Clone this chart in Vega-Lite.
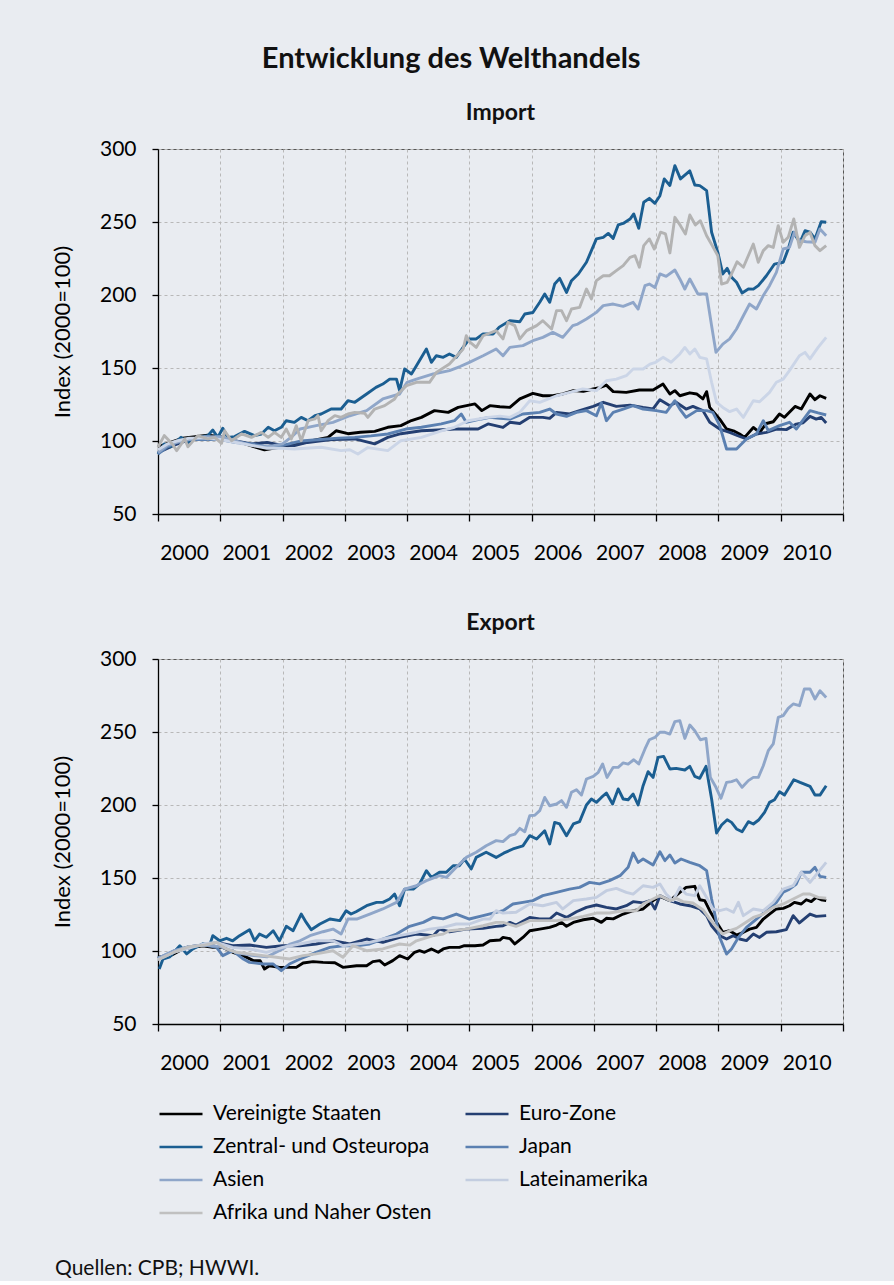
{
  "$schema": "https://vega.github.io/schema/vega-lite/v6.json",
  "background": "#e9ecf1",
  "padding": {"left": 50, "top": 44, "right": 38, "bottom": 2},
  "title": {"text": "Entwicklung des Welthandels", "fontSize": 29, "fontWeight": "bold", "color": "#111", "anchor": "middle", "offset": 28, "dx": -9},
  "datasets": {
    "imp": [
      {"s":"US","x":2000.0,"v":96},{"s":"US","x":2000.2,"v":99},{"s":"US","x":2000.4,"v":102},{"s":"US","x":2000.6,"v":103},{"s":"US","x":2000.8,"v":104},{"s":"US","x":2001.0,"v":103},{"s":"US","x":2001.2,"v":100},{"s":"US","x":2001.4,"v":98},{"s":"US","x":2001.55,"v":96},{"s":"US","x":2001.71,"v":94},{"s":"US","x":2001.85,"v":95},{"s":"US","x":2002.0,"v":96},{"s":"US","x":2002.25,"v":98},{"s":"US","x":2002.45,"v":100},{"s":"US","x":2002.73,"v":102.5},{"s":"US","x":2002.86,"v":107},{"s":"US","x":2003.05,"v":105},{"s":"US","x":2003.25,"v":106},{"s":"US","x":2003.48,"v":106.6},{"s":"US","x":2003.69,"v":109.4},{"s":"US","x":2003.9,"v":110.5},{"s":"US","x":2004.07,"v":114},{"s":"US","x":2004.23,"v":116.2},{"s":"US","x":2004.44,"v":120.8},{"s":"US","x":2004.66,"v":119.6},{"s":"US","x":2004.82,"v":123},{"s":"US","x":2005.09,"v":125.4},{"s":"US","x":2005.2,"v":120.8},{"s":"US","x":2005.33,"v":124.2},{"s":"US","x":2005.49,"v":123.5},{"s":"US","x":2005.65,"v":123},{"s":"US","x":2005.81,"v":128.8},{"s":"US","x":2006.02,"v":132.6},{"s":"US","x":2006.18,"v":131},{"s":"US","x":2006.34,"v":131},{"s":"US","x":2006.5,"v":132.2},{"s":"US","x":2006.67,"v":134.5},{"s":"US","x":2006.83,"v":134},{"s":"US","x":2006.99,"v":135.6},{"s":"US","x":2007.09,"v":136.5},{"s":"US","x":2007.2,"v":138.3},{"s":"US","x":2007.31,"v":133.8},{"s":"US","x":2007.52,"v":133.3},{"s":"US","x":2007.73,"v":134.9},{"s":"US","x":2007.95,"v":134.9},{"s":"US","x":2008.11,"v":139},{"s":"US","x":2008.22,"v":132.2},{"s":"US","x":2008.3,"v":134.5},{"s":"US","x":2008.38,"v":131},{"s":"US","x":2008.54,"v":133},{"s":"US","x":2008.65,"v":132.2},{"s":"US","x":2008.75,"v":128.8},{"s":"US","x":2008.81,"v":133.8},{"s":"US","x":2008.86,"v":123},{"s":"US","x":2009.02,"v":115},{"s":"US","x":2009.13,"v":108.2},{"s":"US","x":2009.24,"v":107},{"s":"US","x":2009.34,"v":104.8},{"s":"US","x":2009.42,"v":102.5},{"s":"US","x":2009.56,"v":109.3},{"s":"US","x":2009.66,"v":105.9},{"s":"US","x":2009.77,"v":112},{"s":"US","x":2009.88,"v":113.2},{"s":"US","x":2009.98,"v":118.5},{"s":"US","x":2010.06,"v":116.2},{"s":"US","x":2010.23,"v":123.7},{"s":"US","x":2010.33,"v":121.9},{"s":"US","x":2010.47,"v":132.2},{"s":"US","x":2010.55,"v":128.3},{"s":"US","x":2010.63,"v":131},{"s":"US","x":2010.73,"v":129.2},

      {"s":"EZ","x":2000.0,"v":92},{"s":"EZ","x":2000.25,"v":97},{"s":"EZ","x":2000.5,"v":101},{"s":"EZ","x":2000.75,"v":102},{"s":"EZ","x":2001.0,"v":102},{"s":"EZ","x":2001.25,"v":100},{"s":"EZ","x":2001.5,"v":98},{"s":"EZ","x":2001.75,"v":99},{"s":"EZ","x":2002.0,"v":97},{"s":"EZ","x":2002.19,"v":96.8},{"s":"EZ","x":2002.4,"v":99},{"s":"EZ","x":2002.62,"v":100.2},{"s":"EZ","x":2002.8,"v":101},{"s":"EZ","x":2003.16,"v":101.4},{"s":"EZ","x":2003.48,"v":98},{"s":"EZ","x":2003.69,"v":102.5},{"s":"EZ","x":2003.9,"v":105},{"s":"EZ","x":2004.23,"v":107},{"s":"EZ","x":2004.5,"v":107.5},{"s":"EZ","x":2004.76,"v":108.2},{"s":"EZ","x":2005.14,"v":108.2},{"s":"EZ","x":2005.3,"v":111.7},{"s":"EZ","x":2005.54,"v":109.3},{"s":"EZ","x":2005.65,"v":112.8},{"s":"EZ","x":2005.81,"v":112},{"s":"EZ","x":2005.97,"v":116.2},{"s":"EZ","x":2006.18,"v":116.2},{"s":"EZ","x":2006.29,"v":115.5},{"s":"EZ","x":2006.4,"v":119.6},{"s":"EZ","x":2006.61,"v":118.5},{"s":"EZ","x":2006.77,"v":120.8},{"s":"EZ","x":2006.99,"v":123.7},{"s":"EZ","x":2007.15,"v":126.5},{"s":"EZ","x":2007.36,"v":123.7},{"s":"EZ","x":2007.58,"v":124.6},{"s":"EZ","x":2007.79,"v":123},{"s":"EZ","x":2007.95,"v":122},{"s":"EZ","x":2008.06,"v":128.3},{"s":"EZ","x":2008.22,"v":124.2},{"s":"EZ","x":2008.32,"v":126.5},{"s":"EZ","x":2008.48,"v":121.9},{"s":"EZ","x":2008.59,"v":123.7},{"s":"EZ","x":2008.75,"v":120.8},{"s":"EZ","x":2008.86,"v":112.8},{"s":"EZ","x":2009.02,"v":108.2},{"s":"EZ","x":2009.18,"v":105.9},{"s":"EZ","x":2009.31,"v":103.6},{"s":"EZ","x":2009.45,"v":101.4},{"s":"EZ","x":2009.61,"v":104.8},{"s":"EZ","x":2009.77,"v":105.9},{"s":"EZ","x":2009.93,"v":108.2},{"s":"EZ","x":2010.09,"v":107.8},{"s":"EZ","x":2010.25,"v":111.6},{"s":"EZ","x":2010.36,"v":112.5},{"s":"EZ","x":2010.47,"v":116.9},{"s":"EZ","x":2010.57,"v":115},{"s":"EZ","x":2010.65,"v":116.2},{"s":"EZ","x":2010.73,"v":112.3},

      {"s":"ZOE","x":2000.0,"v":91.1},{"s":"ZOE","x":2000.1,"v":98},{"s":"ZOE","x":2000.2,"v":96},{"s":"ZOE","x":2000.37,"v":102.5},{"s":"ZOE","x":2000.48,"v":99},{"s":"ZOE","x":2000.64,"v":102.5},{"s":"ZOE","x":2000.8,"v":103.7},{"s":"ZOE","x":2000.88,"v":107.5},{"s":"ZOE","x":2000.96,"v":102.5},{"s":"ZOE","x":2001.04,"v":108.7},{"s":"ZOE","x":2001.12,"v":102.5},{"s":"ZOE","x":2001.23,"v":103},{"s":"ZOE","x":2001.39,"v":106.6},{"s":"ZOE","x":2001.55,"v":103.7},{"s":"ZOE","x":2001.66,"v":104.8},{"s":"ZOE","x":2001.77,"v":109.4},{"s":"ZOE","x":2001.87,"v":107},{"s":"ZOE","x":2001.98,"v":109.4},{"s":"ZOE","x":2002.06,"v":113.9},{"s":"ZOE","x":2002.19,"v":112.8},{"s":"ZOE","x":2002.3,"v":116.2},{"s":"ZOE","x":2002.41,"v":113.9},{"s":"ZOE","x":2002.52,"v":117.4},{"s":"ZOE","x":2002.62,"v":118.5},{"s":"ZOE","x":2002.78,"v":121.9},{"s":"ZOE","x":2002.94,"v":121.9},{"s":"ZOE","x":2003.05,"v":127.6},{"s":"ZOE","x":2003.16,"v":126.5},{"s":"ZOE","x":2003.35,"v":132.2},{"s":"ZOE","x":2003.5,"v":136.7},{"s":"ZOE","x":2003.61,"v":139},{"s":"ZOE","x":2003.72,"v":142.4},{"s":"ZOE","x":2003.83,"v":142.4},{"s":"ZOE","x":2003.88,"v":134.5},{"s":"ZOE","x":2003.96,"v":149.3},{"s":"ZOE","x":2004.07,"v":145.9},{"s":"ZOE","x":2004.15,"v":151.6},{"s":"ZOE","x":2004.31,"v":163},{"s":"ZOE","x":2004.39,"v":153.9},{"s":"ZOE","x":2004.47,"v":158.4},{"s":"ZOE","x":2004.58,"v":157.3},{"s":"ZOE","x":2004.68,"v":159.6},{"s":"ZOE","x":2004.79,"v":157.3},{"s":"ZOE","x":2004.9,"v":164.1},{"s":"ZOE","x":2005.0,"v":169.9},{"s":"ZOE","x":2005.11,"v":169.9},{"s":"ZOE","x":2005.22,"v":173.3},{"s":"ZOE","x":2005.38,"v":173.3},{"s":"ZOE","x":2005.48,"v":178},{"s":"ZOE","x":2005.65,"v":182.4},{"s":"ZOE","x":2005.81,"v":181.7},{"s":"ZOE","x":2005.89,"v":187},{"s":"ZOE","x":2006.02,"v":188},{"s":"ZOE","x":2006.13,"v":195},{"s":"ZOE","x":2006.21,"v":200.7},{"s":"ZOE","x":2006.29,"v":195},{"s":"ZOE","x":2006.37,"v":207.5},{"s":"ZOE","x":2006.45,"v":211.4},{"s":"ZOE","x":2006.56,"v":201.8},{"s":"ZOE","x":2006.64,"v":209.8},{"s":"ZOE","x":2006.75,"v":214.4},{"s":"ZOE","x":2006.88,"v":222.4},{"s":"ZOE","x":2007.04,"v":238.4},{"s":"ZOE","x":2007.15,"v":239.5},{"s":"ZOE","x":2007.23,"v":242.2},{"s":"ZOE","x":2007.31,"v":238.8},{"s":"ZOE","x":2007.39,"v":248},{"s":"ZOE","x":2007.47,"v":249},{"s":"ZOE","x":2007.58,"v":252},{"s":"ZOE","x":2007.64,"v":255.5},{"s":"ZOE","x":2007.72,"v":245.7},{"s":"ZOE","x":2007.8,"v":263.5},{"s":"ZOE","x":2007.89,"v":266.2},{"s":"ZOE","x":2007.98,"v":262.8},{"s":"ZOE","x":2008.06,"v":268},{"s":"ZOE","x":2008.13,"v":279.5},{"s":"ZOE","x":2008.22,"v":275},{"s":"ZOE","x":2008.3,"v":288.6},{"s":"ZOE","x":2008.39,"v":279.5},{"s":"ZOE","x":2008.54,"v":285},{"s":"ZOE","x":2008.62,"v":275.3},{"s":"ZOE","x":2008.7,"v":274.9},{"s":"ZOE","x":2008.81,"v":271.5},{"s":"ZOE","x":2008.89,"v":243},{"s":"ZOE","x":2008.99,"v":229.2},{"s":"ZOE","x":2009.07,"v":214.4},{"s":"ZOE","x":2009.14,"v":218.3},{"s":"ZOE","x":2009.21,"v":212.1},{"s":"ZOE","x":2009.29,"v":208.7},{"s":"ZOE","x":2009.38,"v":201.4},{"s":"ZOE","x":2009.48,"v":204.1},{"s":"ZOE","x":2009.56,"v":204},{"s":"ZOE","x":2009.64,"v":206.4},{"s":"ZOE","x":2009.77,"v":213.2},{"s":"ZOE","x":2009.9,"v":221.2},{"s":"ZOE","x":2010.04,"v":222.4},{"s":"ZOE","x":2010.12,"v":231.5},{"s":"ZOE","x":2010.2,"v":243},{"s":"ZOE","x":2010.31,"v":236},{"s":"ZOE","x":2010.39,"v":244},{"s":"ZOE","x":2010.47,"v":243},{"s":"ZOE","x":2010.55,"v":238.4},{"s":"ZOE","x":2010.65,"v":250.2},{"s":"ZOE","x":2010.73,"v":249.8},

      {"s":"JP","x":2000.0,"v":91},{"s":"JP","x":2000.15,"v":96},{"s":"JP","x":2000.3,"v":99},{"s":"JP","x":2000.5,"v":101},{"s":"JP","x":2000.75,"v":101},{"s":"JP","x":2001.0,"v":101},{"s":"JP","x":2001.25,"v":99},{"s":"JP","x":2001.5,"v":98},{"s":"JP","x":2001.75,"v":96},{"s":"JP","x":2002.0,"v":97},{"s":"JP","x":2002.3,"v":100},{"s":"JP","x":2002.6,"v":101},{"s":"JP","x":2002.9,"v":102},{"s":"JP","x":2003.16,"v":102.5},{"s":"JP","x":2003.42,"v":103.5},{"s":"JP","x":2003.69,"v":104.8},{"s":"JP","x":2003.98,"v":108.2},{"s":"JP","x":2004.23,"v":109.4},{"s":"JP","x":2004.55,"v":111.7},{"s":"JP","x":2004.76,"v":113.9},{"s":"JP","x":2004.87,"v":118.5},{"s":"JP","x":2004.95,"v":112.8},{"s":"JP","x":2005.19,"v":115.1},{"s":"JP","x":2005.33,"v":116.2},{"s":"JP","x":2005.49,"v":115.6},{"s":"JP","x":2005.65,"v":115},{"s":"JP","x":2005.86,"v":118.5},{"s":"JP","x":2006.13,"v":119.6},{"s":"JP","x":2006.29,"v":121.9},{"s":"JP","x":2006.4,"v":118.5},{"s":"JP","x":2006.56,"v":116.9},{"s":"JP","x":2006.72,"v":119.6},{"s":"JP","x":2006.88,"v":120.8},{"s":"JP","x":2007.04,"v":117.3},{"s":"JP","x":2007.12,"v":126},{"s":"JP","x":2007.2,"v":113.9},{"s":"JP","x":2007.31,"v":119.6},{"s":"JP","x":2007.47,"v":121.9},{"s":"JP","x":2007.63,"v":124.2},{"s":"JP","x":2007.79,"v":121.9},{"s":"JP","x":2008.0,"v":120.8},{"s":"JP","x":2008.16,"v":119.6},{"s":"JP","x":2008.3,"v":127.6},{"s":"JP","x":2008.38,"v":121.9},{"s":"JP","x":2008.48,"v":116.2},{"s":"JP","x":2008.65,"v":120.8},{"s":"JP","x":2008.81,"v":120.8},{"s":"JP","x":2008.91,"v":119.6},{"s":"JP","x":2009.02,"v":110.5},{"s":"JP","x":2009.13,"v":94.5},{"s":"JP","x":2009.29,"v":94.5},{"s":"JP","x":2009.45,"v":101.4},{"s":"JP","x":2009.61,"v":104.8},{"s":"JP","x":2009.72,"v":113.9},{"s":"JP","x":2009.8,"v":107.1},{"s":"JP","x":2009.98,"v":110.5},{"s":"JP","x":2010.14,"v":112.8},{"s":"JP","x":2010.25,"v":108.2},{"s":"JP","x":2010.47,"v":120.8},{"s":"JP","x":2010.6,"v":119.2},{"s":"JP","x":2010.73,"v":117.8},

      {"s":"AS","x":2000.0,"v":92},{"s":"AS","x":2000.15,"v":97},{"s":"AS","x":2000.3,"v":99},{"s":"AS","x":2000.5,"v":101},{"s":"AS","x":2000.75,"v":103},{"s":"AS","x":2001.0,"v":103},{"s":"AS","x":2001.25,"v":100},{"s":"AS","x":2001.5,"v":97},{"s":"AS","x":2001.75,"v":96},{"s":"AS","x":2002.0,"v":98},{"s":"AS","x":2002.15,"v":103},{"s":"AS","x":2002.28,"v":108.2},{"s":"AS","x":2002.54,"v":110.5},{"s":"AS","x":2002.81,"v":112.8},{"s":"AS","x":2003.08,"v":117.3},{"s":"AS","x":2003.35,"v":120.8},{"s":"AS","x":2003.61,"v":128.8},{"s":"AS","x":2003.88,"v":132.2},{"s":"AS","x":2004.0,"v":140.2},{"s":"AS","x":2004.15,"v":142.4},{"s":"AS","x":2004.42,"v":145.9},{"s":"AS","x":2004.68,"v":148.2},{"s":"AS","x":2004.85,"v":151},{"s":"AS","x":2005.0,"v":153.9},{"s":"AS","x":2005.22,"v":158.4},{"s":"AS","x":2005.43,"v":163},{"s":"AS","x":2005.54,"v":158.4},{"s":"AS","x":2005.65,"v":164.1},{"s":"AS","x":2005.86,"v":165.3},{"s":"AS","x":2006.02,"v":168.7},{"s":"AS","x":2006.18,"v":171},{"s":"AS","x":2006.34,"v":174.4},{"s":"AS","x":2006.5,"v":171},{"s":"AS","x":2006.66,"v":179},{"s":"AS","x":2006.74,"v":180.1},{"s":"AS","x":2006.88,"v":183.6},{"s":"AS","x":2007.04,"v":188.1},{"s":"AS","x":2007.15,"v":192.7},{"s":"AS","x":2007.31,"v":193.8},{"s":"AS","x":2007.47,"v":192.2},{"s":"AS","x":2007.63,"v":195},{"s":"AS","x":2007.71,"v":190.4},{"s":"AS","x":2007.82,"v":206.4},{"s":"AS","x":2007.89,"v":207.5},{"s":"AS","x":2007.98,"v":205.2},{"s":"AS","x":2008.06,"v":214.4},{"s":"AS","x":2008.16,"v":212.8},{"s":"AS","x":2008.3,"v":217.1},{"s":"AS","x":2008.38,"v":211},{"s":"AS","x":2008.46,"v":204.1},{"s":"AS","x":2008.54,"v":211},{"s":"AS","x":2008.67,"v":200.7},{"s":"AS","x":2008.81,"v":200.7},{"s":"AS","x":2008.89,"v":179},{"s":"AS","x":2008.96,"v":160.7},{"s":"AS","x":2009.07,"v":166.4},{"s":"AS","x":2009.18,"v":169.9},{"s":"AS","x":2009.29,"v":176.7},{"s":"AS","x":2009.4,"v":185.8},{"s":"AS","x":2009.5,"v":193.8},{"s":"AS","x":2009.61,"v":190.4},{"s":"AS","x":2009.72,"v":199.6},{"s":"AS","x":2009.82,"v":206.4},{"s":"AS","x":2009.93,"v":215.5},{"s":"AS","x":2010.04,"v":231.5},{"s":"AS","x":2010.14,"v":232.6},{"s":"AS","x":2010.22,"v":243},{"s":"AS","x":2010.3,"v":237.2},{"s":"AS","x":2010.41,"v":236.5},{"s":"AS","x":2010.55,"v":236.1},{"s":"AS","x":2010.63,"v":245.2},{"s":"AS","x":2010.73,"v":240.6},

      {"s":"LA","x":2000.0,"v":94},{"s":"LA","x":2000.15,"v":98},{"s":"LA","x":2000.3,"v":100},{"s":"LA","x":2000.5,"v":102},{"s":"LA","x":2000.75,"v":102},{"s":"LA","x":2001.0,"v":101},{"s":"LA","x":2001.25,"v":99},{"s":"LA","x":2001.5,"v":97},{"s":"LA","x":2001.75,"v":95},{"s":"LA","x":2002.0,"v":95},{"s":"LA","x":2002.19,"v":94.5},{"s":"LA","x":2002.62,"v":95.7},{"s":"LA","x":2002.94,"v":93.4},{"s":"LA","x":2003.08,"v":94},{"s":"LA","x":2003.21,"v":91.1},{"s":"LA","x":2003.37,"v":95.5},{"s":"LA","x":2003.69,"v":93.4},{"s":"LA","x":2003.9,"v":100.2},{"s":"LA","x":2004.23,"v":102.5},{"s":"LA","x":2004.55,"v":107},{"s":"LA","x":2004.76,"v":109.4},{"s":"LA","x":2004.98,"v":113.9},{"s":"LA","x":2005.3,"v":116.2},{"s":"LA","x":2005.49,"v":117},{"s":"LA","x":2005.65,"v":116.2},{"s":"LA","x":2005.81,"v":119.6},{"s":"LA","x":2005.97,"v":127.6},{"s":"LA","x":2006.13,"v":126.5},{"s":"LA","x":2006.4,"v":131},{"s":"LA","x":2006.61,"v":133.3},{"s":"LA","x":2006.82,"v":135.6},{"s":"LA","x":2007.04,"v":134.5},{"s":"LA","x":2007.2,"v":141.3},{"s":"LA","x":2007.36,"v":142.4},{"s":"LA","x":2007.52,"v":144.7},{"s":"LA","x":2007.63,"v":149.3},{"s":"LA","x":2007.79,"v":149.3},{"s":"LA","x":2007.9,"v":152.7},{"s":"LA","x":2007.99,"v":153.9},{"s":"LA","x":2008.11,"v":157.3},{"s":"LA","x":2008.24,"v":153.9},{"s":"LA","x":2008.38,"v":159.6},{"s":"LA","x":2008.46,"v":164.1},{"s":"LA","x":2008.54,"v":159.6},{"s":"LA","x":2008.62,"v":163},{"s":"LA","x":2008.7,"v":157.3},{"s":"LA","x":2008.81,"v":156.2},{"s":"LA","x":2008.89,"v":140.2},{"s":"LA","x":2008.97,"v":126.5},{"s":"LA","x":2009.07,"v":123},{"s":"LA","x":2009.18,"v":120.1},{"s":"LA","x":2009.29,"v":121.9},{"s":"LA","x":2009.4,"v":116.2},{"s":"LA","x":2009.56,"v":127.6},{"s":"LA","x":2009.66,"v":126.9},{"s":"LA","x":2009.82,"v":133.3},{"s":"LA","x":2009.93,"v":140.2},{"s":"LA","x":2010.04,"v":142.4},{"s":"LA","x":2010.14,"v":148.2},{"s":"LA","x":2010.3,"v":158.4},{"s":"LA","x":2010.39,"v":160.7},{"s":"LA","x":2010.47,"v":156.2},{"s":"LA","x":2010.6,"v":164.1},{"s":"LA","x":2010.73,"v":171},

      {"s":"AF","x":2000.0,"v":95.7},{"s":"AF","x":2000.1,"v":103.7},{"s":"AF","x":2000.23,"v":98},{"s":"AF","x":2000.3,"v":93.4},{"s":"AF","x":2000.43,"v":101.4},{"s":"AF","x":2000.48,"v":96},{"s":"AF","x":2000.64,"v":103.7},{"s":"AF","x":2000.8,"v":101.5},{"s":"AF","x":2000.91,"v":102.5},{"s":"AF","x":2001.02,"v":98.4},{"s":"AF","x":2001.07,"v":107},{"s":"AF","x":2001.18,"v":100.2},{"s":"AF","x":2001.34,"v":104.8},{"s":"AF","x":2001.5,"v":102.5},{"s":"AF","x":2001.66,"v":105.9},{"s":"AF","x":2001.77,"v":102.5},{"s":"AF","x":2001.87,"v":105.9},{"s":"AF","x":2001.98,"v":102.5},{"s":"AF","x":2002.06,"v":108.2},{"s":"AF","x":2002.14,"v":101.4},{"s":"AF","x":2002.22,"v":110.5},{"s":"AF","x":2002.3,"v":100.2},{"s":"AF","x":2002.41,"v":113.9},{"s":"AF","x":2002.52,"v":115.1},{"s":"AF","x":2002.57,"v":117.4},{"s":"AF","x":2002.62,"v":107},{"s":"AF","x":2002.73,"v":113.9},{"s":"AF","x":2002.84,"v":117.4},{"s":"AF","x":2002.94,"v":116.2},{"s":"AF","x":2003.05,"v":118.5},{"s":"AF","x":2003.16,"v":119.6},{"s":"AF","x":2003.32,"v":119},{"s":"AF","x":2003.37,"v":116.2},{"s":"AF","x":2003.48,"v":121.9},{"s":"AF","x":2003.64,"v":124.2},{"s":"AF","x":2003.8,"v":128.8},{"s":"AF","x":2003.85,"v":132.2},{"s":"AF","x":2003.99,"v":137.9},{"s":"AF","x":2004.15,"v":140.2},{"s":"AF","x":2004.36,"v":140.2},{"s":"AF","x":2004.47,"v":147},{"s":"AF","x":2004.68,"v":152.7},{"s":"AF","x":2004.9,"v":163},{"s":"AF","x":2004.95,"v":172.1},{"s":"AF","x":2005.0,"v":168},{"s":"AF","x":2005.11,"v":164.1},{"s":"AF","x":2005.22,"v":172.1},{"s":"AF","x":2005.43,"v":175.6},{"s":"AF","x":2005.54,"v":169.9},{"s":"AF","x":2005.62,"v":181.3},{"s":"AF","x":2005.73,"v":179},{"s":"AF","x":2005.81,"v":169.9},{"s":"AF","x":2005.92,"v":175.6},{"s":"AF","x":2006.08,"v":179},{"s":"AF","x":2006.18,"v":182.4},{"s":"AF","x":2006.32,"v":176.7},{"s":"AF","x":2006.4,"v":189.3},{"s":"AF","x":2006.48,"v":189.3},{"s":"AF","x":2006.56,"v":182.4},{"s":"AF","x":2006.64,"v":190.4},{"s":"AF","x":2006.77,"v":191.5},{"s":"AF","x":2006.88,"v":204.1},{"s":"AF","x":2006.96,"v":197.3},{"s":"AF","x":2007.04,"v":209.8},{"s":"AF","x":2007.15,"v":213.2},{"s":"AF","x":2007.25,"v":213.2},{"s":"AF","x":2007.36,"v":216.7},{"s":"AF","x":2007.47,"v":220.1},{"s":"AF","x":2007.58,"v":225.8},{"s":"AF","x":2007.66,"v":226.9},{"s":"AF","x":2007.73,"v":219},{"s":"AF","x":2007.8,"v":233.8},{"s":"AF","x":2007.89,"v":238.4},{"s":"AF","x":2007.97,"v":231.5},{"s":"AF","x":2008.07,"v":243},{"s":"AF","x":2008.15,"v":241.8},{"s":"AF","x":2008.22,"v":228.8},{"s":"AF","x":2008.3,"v":253.2},{"s":"AF","x":2008.39,"v":247.5},{"s":"AF","x":2008.47,"v":241.8},{"s":"AF","x":2008.54,"v":254.8},{"s":"AF","x":2008.63,"v":248},{"s":"AF","x":2008.71,"v":250.9},{"s":"AF","x":2008.81,"v":240.6},{"s":"AF","x":2008.9,"v":233.8},{"s":"AF","x":2008.99,"v":226.9},{"s":"AF","x":2009.05,"v":207.5},{"s":"AF","x":2009.14,"v":208.7},{"s":"AF","x":2009.21,"v":214.4},{"s":"AF","x":2009.3,"v":222.8},{"s":"AF","x":2009.4,"v":219},{"s":"AF","x":2009.56,"v":234.9},{"s":"AF","x":2009.64,"v":222.4},{"s":"AF","x":2009.72,"v":230.4},{"s":"AF","x":2009.8,"v":233.8},{"s":"AF","x":2009.88,"v":232.6},{"s":"AF","x":2009.96,"v":247.5},{"s":"AF","x":2010.04,"v":236.1},{"s":"AF","x":2010.12,"v":239.5},{"s":"AF","x":2010.21,"v":252.1},{"s":"AF","x":2010.3,"v":232.6},{"s":"AF","x":2010.39,"v":240.6},{"s":"AF","x":2010.47,"v":242.9},{"s":"AF","x":2010.55,"v":233.8},{"s":"AF","x":2010.63,"v":230.4},{"s":"AF","x":2010.73,"v":233.8}
    ],
    "exp": [
      {"s":"US","x":2000.0,"v":95.7},{"s":"US","x":2000.2,"v":96.8},{"s":"US","x":2000.4,"v":101.4},{"s":"US","x":2000.56,"v":102.5},{"s":"US","x":2000.72,"v":103.6},{"s":"US","x":2000.88,"v":102.5},{"s":"US","x":2001.04,"v":102.5},{"s":"US","x":2001.2,"v":99.1},{"s":"US","x":2001.37,"v":96.8},{"s":"US","x":2001.53,"v":93.4},{"s":"US","x":2001.64,"v":93.4},{"s":"US","x":2001.71,"v":87.7},{"s":"US","x":2001.79,"v":89.9},{"s":"US","x":2001.95,"v":88.8},{"s":"US","x":2002.11,"v":88.8},{"s":"US","x":2002.22,"v":88.8},{"s":"US","x":2002.33,"v":91.8},{"s":"US","x":2002.49,"v":92.7},{"s":"US","x":2002.65,"v":92.2},{"s":"US","x":2002.84,"v":92},{"s":"US","x":2002.97,"v":88.8},{"s":"US","x":2003.19,"v":89.9},{"s":"US","x":2003.35,"v":89.9},{"s":"US","x":2003.45,"v":92.7},{"s":"US","x":2003.56,"v":93.4},{"s":"US","x":2003.64,"v":90.4},{"s":"US","x":2003.77,"v":93.4},{"s":"US","x":2003.88,"v":96.8},{"s":"US","x":2004.01,"v":94.5},{"s":"US","x":2004.12,"v":99.1},{"s":"US","x":2004.2,"v":100.2},{"s":"US","x":2004.28,"v":99.1},{"s":"US","x":2004.39,"v":101.4},{"s":"US","x":2004.5,"v":99.1},{"s":"US","x":2004.58,"v":101.4},{"s":"US","x":2004.68,"v":102.5},{"s":"US","x":2004.84,"v":102.5},{"s":"US","x":2004.92,"v":103.6},{"s":"US","x":2005.09,"v":103.6},{"s":"US","x":2005.22,"v":104.1},{"s":"US","x":2005.33,"v":107},{"s":"US","x":2005.49,"v":107.5},{"s":"US","x":2005.54,"v":109.3},{"s":"US","x":2005.65,"v":108.5},{"s":"US","x":2005.73,"v":104.8},{"s":"US","x":2005.86,"v":109.3},{"s":"US","x":2005.97,"v":113.9},{"s":"US","x":2006.13,"v":115},{"s":"US","x":2006.29,"v":116.2},{"s":"US","x":2006.4,"v":117.8},{"s":"US","x":2006.48,"v":119.6},{"s":"US","x":2006.56,"v":116.9},{"s":"US","x":2006.67,"v":119.6},{"s":"US","x":2006.83,"v":121.4},{"s":"US","x":2006.99,"v":122.4},{"s":"US","x":2007.12,"v":119.6},{"s":"US","x":2007.2,"v":122.4},{"s":"US","x":2007.31,"v":122},{"s":"US","x":2007.47,"v":125.3},{"s":"US","x":2007.63,"v":127.6},{"s":"US","x":2007.79,"v":128.8},{"s":"US","x":2007.95,"v":134.5},{"s":"US","x":2008.06,"v":137.4},{"s":"US","x":2008.22,"v":134.5},{"s":"US","x":2008.38,"v":140.2},{"s":"US","x":2008.48,"v":143.6},{"s":"US","x":2008.62,"v":144.3},{"s":"US","x":2008.7,"v":135.1},{"s":"US","x":2008.78,"v":134.5},{"s":"US","x":2008.86,"v":127.6},{"s":"US","x":2008.97,"v":119.6},{"s":"US","x":2009.07,"v":112.8},{"s":"US","x":2009.18,"v":113.9},{"s":"US","x":2009.29,"v":110.9},{"s":"US","x":2009.4,"v":112.8},{"s":"US","x":2009.5,"v":115},{"s":"US","x":2009.61,"v":116.2},{"s":"US","x":2009.72,"v":121.9},{"s":"US","x":2009.82,"v":125.3},{"s":"US","x":2009.93,"v":128.8},{"s":"US","x":2010.04,"v":129.2},{"s":"US","x":2010.14,"v":131},{"s":"US","x":2010.22,"v":133.3},{"s":"US","x":2010.33,"v":132.2},{"s":"US","x":2010.41,"v":135.1},{"s":"US","x":2010.49,"v":133.8},{"s":"US","x":2010.57,"v":136.7},{"s":"US","x":2010.65,"v":135.1},{"s":"US","x":2010.73,"v":134.5},

      {"s":"EZ","x":2000.0,"v":95},{"s":"EZ","x":2000.25,"v":99},{"s":"EZ","x":2000.5,"v":103},{"s":"EZ","x":2000.75,"v":104},{"s":"EZ","x":2000.94,"v":105.9},{"s":"EZ","x":2001.2,"v":103.6},{"s":"EZ","x":2001.47,"v":104.1},{"s":"EZ","x":2001.74,"v":102.5},{"s":"EZ","x":2002.0,"v":103.6},{"s":"EZ","x":2002.28,"v":103.6},{"s":"EZ","x":2002.54,"v":104.8},{"s":"EZ","x":2002.81,"v":107},{"s":"EZ","x":2003.08,"v":104.8},{"s":"EZ","x":2003.35,"v":108.2},{"s":"EZ","x":2003.61,"v":105.9},{"s":"EZ","x":2003.88,"v":109.3},{"s":"EZ","x":2004.15,"v":111.6},{"s":"EZ","x":2004.42,"v":110.5},{"s":"EZ","x":2004.52,"v":115},{"s":"EZ","x":2004.68,"v":113.2},{"s":"EZ","x":2004.95,"v":115},{"s":"EZ","x":2005.22,"v":115.5},{"s":"EZ","x":2005.43,"v":116.9},{"s":"EZ","x":2005.54,"v":117.3},{"s":"EZ","x":2005.65,"v":119.6},{"s":"EZ","x":2005.75,"v":117.8},{"s":"EZ","x":2005.97,"v":123},{"s":"EZ","x":2006.13,"v":122},{"s":"EZ","x":2006.29,"v":121.9},{"s":"EZ","x":2006.4,"v":126},{"s":"EZ","x":2006.56,"v":123},{"s":"EZ","x":2006.72,"v":126.9},{"s":"EZ","x":2006.88,"v":129.9},{"s":"EZ","x":2007.04,"v":131.5},{"s":"EZ","x":2007.2,"v":129.9},{"s":"EZ","x":2007.36,"v":128.8},{"s":"EZ","x":2007.52,"v":131},{"s":"EZ","x":2007.63,"v":133.8},{"s":"EZ","x":2007.79,"v":133},{"s":"EZ","x":2007.9,"v":134.5},{"s":"EZ","x":2007.98,"v":128.8},{"s":"EZ","x":2008.06,"v":137.9},{"s":"EZ","x":2008.22,"v":134.5},{"s":"EZ","x":2008.38,"v":132.2},{"s":"EZ","x":2008.54,"v":131},{"s":"EZ","x":2008.7,"v":128.8},{"s":"EZ","x":2008.81,"v":124.2},{"s":"EZ","x":2008.89,"v":117.3},{"s":"EZ","x":2009.02,"v":110.5},{"s":"EZ","x":2009.13,"v":108.2},{"s":"EZ","x":2009.24,"v":110.5},{"s":"EZ","x":2009.34,"v":108.2},{"s":"EZ","x":2009.45,"v":107.1},{"s":"EZ","x":2009.56,"v":111.6},{"s":"EZ","x":2009.66,"v":109.3},{"s":"EZ","x":2009.77,"v":112.8},{"s":"EZ","x":2009.93,"v":113.2},{"s":"EZ","x":2010.09,"v":114.6},{"s":"EZ","x":2010.2,"v":124.2},{"s":"EZ","x":2010.3,"v":119.2},{"s":"EZ","x":2010.47,"v":125.3},{"s":"EZ","x":2010.57,"v":123.7},{"s":"EZ","x":2010.73,"v":124.2},

      {"s":"ZOE","x":2000.02,"v":87.7},{"s":"ZOE","x":2000.08,"v":94.5},{"s":"ZOE","x":2000.19,"v":96},{"s":"ZOE","x":2000.35,"v":103.6},{"s":"ZOE","x":2000.46,"v":98},{"s":"ZOE","x":2000.56,"v":101.4},{"s":"ZOE","x":2000.72,"v":105},{"s":"ZOE","x":2000.83,"v":104},{"s":"ZOE","x":2000.88,"v":110.5},{"s":"ZOE","x":2000.99,"v":107},{"s":"ZOE","x":2001.1,"v":108.7},{"s":"ZOE","x":2001.2,"v":107},{"s":"ZOE","x":2001.31,"v":110.5},{"s":"ZOE","x":2001.47,"v":114.6},{"s":"ZOE","x":2001.55,"v":107},{"s":"ZOE","x":2001.63,"v":111.6},{"s":"ZOE","x":2001.74,"v":109.4},{"s":"ZOE","x":2001.85,"v":113.9},{"s":"ZOE","x":2001.95,"v":107},{"s":"ZOE","x":2002.06,"v":116.9},{"s":"ZOE","x":2002.17,"v":113.9},{"s":"ZOE","x":2002.3,"v":125.3},{"s":"ZOE","x":2002.38,"v":119.6},{"s":"ZOE","x":2002.46,"v":114.6},{"s":"ZOE","x":2002.6,"v":118.5},{"s":"ZOE","x":2002.76,"v":121.9},{"s":"ZOE","x":2002.92,"v":120.8},{"s":"ZOE","x":2003.02,"v":127.6},{"s":"ZOE","x":2003.1,"v":125.3},{"s":"ZOE","x":2003.18,"v":126.9},{"s":"ZOE","x":2003.35,"v":131},{"s":"ZOE","x":2003.51,"v":133.3},{"s":"ZOE","x":2003.61,"v":133.3},{"s":"ZOE","x":2003.72,"v":135.6},{"s":"ZOE","x":2003.8,"v":139},{"s":"ZOE","x":2003.88,"v":131},{"s":"ZOE","x":2003.96,"v":142.4},{"s":"ZOE","x":2004.1,"v":142.4},{"s":"ZOE","x":2004.2,"v":145.9},{"s":"ZOE","x":2004.31,"v":155},{"s":"ZOE","x":2004.39,"v":150.4},{"s":"ZOE","x":2004.52,"v":153.9},{"s":"ZOE","x":2004.63,"v":153.9},{"s":"ZOE","x":2004.74,"v":158.4},{"s":"ZOE","x":2004.84,"v":158.4},{"s":"ZOE","x":2004.92,"v":163},{"s":"ZOE","x":2005.03,"v":156.2},{"s":"ZOE","x":2005.11,"v":164.1},{"s":"ZOE","x":2005.27,"v":167.6},{"s":"ZOE","x":2005.43,"v":164.1},{"s":"ZOE","x":2005.55,"v":167},{"s":"ZOE","x":2005.7,"v":169.9},{"s":"ZOE","x":2005.86,"v":172},{"s":"ZOE","x":2005.97,"v":179},{"s":"ZOE","x":2006.08,"v":176.7},{"s":"ZOE","x":2006.21,"v":182.4},{"s":"ZOE","x":2006.29,"v":173.3},{"s":"ZOE","x":2006.37,"v":188.1},{"s":"ZOE","x":2006.45,"v":187},{"s":"ZOE","x":2006.56,"v":179},{"s":"ZOE","x":2006.67,"v":187},{"s":"ZOE","x":2006.77,"v":188.6},{"s":"ZOE","x":2006.88,"v":200},{"s":"ZOE","x":2006.96,"v":204.1},{"s":"ZOE","x":2007.04,"v":201.8},{"s":"ZOE","x":2007.12,"v":205.2},{"s":"ZOE","x":2007.2,"v":208.2},{"s":"ZOE","x":2007.3,"v":200.7},{"s":"ZOE","x":2007.39,"v":211},{"s":"ZOE","x":2007.47,"v":204.1},{"s":"ZOE","x":2007.55,"v":203.6},{"s":"ZOE","x":2007.63,"v":207.5},{"s":"ZOE","x":2007.71,"v":200},{"s":"ZOE","x":2007.79,"v":213.2},{"s":"ZOE","x":2007.87,"v":222.8},{"s":"ZOE","x":2007.95,"v":218.9},{"s":"ZOE","x":2008.03,"v":232.6},{"s":"ZOE","x":2008.12,"v":233.3},{"s":"ZOE","x":2008.22,"v":224.7},{"s":"ZOE","x":2008.32,"v":225.1},{"s":"ZOE","x":2008.46,"v":224},{"s":"ZOE","x":2008.54,"v":226.5},{"s":"ZOE","x":2008.62,"v":219.6},{"s":"ZOE","x":2008.7,"v":218.3},{"s":"ZOE","x":2008.8,"v":226.5},{"s":"ZOE","x":2008.89,"v":204.1},{"s":"ZOE","x":2008.97,"v":180.8},{"s":"ZOE","x":2009.05,"v":186.3},{"s":"ZOE","x":2009.14,"v":189.9},{"s":"ZOE","x":2009.21,"v":188.1},{"s":"ZOE","x":2009.29,"v":183.6},{"s":"ZOE","x":2009.38,"v":181.7},{"s":"ZOE","x":2009.48,"v":188.6},{"s":"ZOE","x":2009.56,"v":187},{"s":"ZOE","x":2009.65,"v":189.9},{"s":"ZOE","x":2009.74,"v":195},{"s":"ZOE","x":2009.82,"v":201.8},{"s":"ZOE","x":2009.9,"v":203.6},{"s":"ZOE","x":2009.98,"v":209.1},{"s":"ZOE","x":2010.06,"v":206.8},{"s":"ZOE","x":2010.21,"v":217.3},{"s":"ZOE","x":2010.31,"v":215.5},{"s":"ZOE","x":2010.47,"v":212.8},{"s":"ZOE","x":2010.55,"v":206.8},{"s":"ZOE","x":2010.63,"v":206.8},{"s":"ZOE","x":2010.73,"v":213.2},

      {"s":"JP","x":2000.0,"v":95},{"s":"JP","x":2000.25,"v":100},{"s":"JP","x":2000.5,"v":103},{"s":"JP","x":2000.75,"v":104},{"s":"JP","x":2000.94,"v":102.5},{"s":"JP","x":2001.04,"v":96.8},{"s":"JP","x":2001.2,"v":100.2},{"s":"JP","x":2001.37,"v":94.5},{"s":"JP","x":2001.47,"v":92.2},{"s":"JP","x":2001.69,"v":91.1},{"s":"JP","x":2001.85,"v":91.1},{"s":"JP","x":2001.98,"v":86.5},{"s":"JP","x":2002.11,"v":91.1},{"s":"JP","x":2002.28,"v":94.5},{"s":"JP","x":2002.54,"v":99.1},{"s":"JP","x":2002.76,"v":102.5},{"s":"JP","x":2002.97,"v":103.6},{"s":"JP","x":2003.19,"v":103.6},{"s":"JP","x":2003.4,"v":104.8},{"s":"JP","x":2003.61,"v":108.2},{"s":"JP","x":2003.83,"v":111.6},{"s":"JP","x":2004.04,"v":116.9},{"s":"JP","x":2004.26,"v":119.6},{"s":"JP","x":2004.42,"v":123},{"s":"JP","x":2004.58,"v":122},{"s":"JP","x":2004.79,"v":125.3},{"s":"JP","x":2005.0,"v":121.9},{"s":"JP","x":2005.22,"v":124.2},{"s":"JP","x":2005.43,"v":126.5},{"s":"JP","x":2005.54,"v":127.6},{"s":"JP","x":2005.7,"v":132.2},{"s":"JP","x":2005.86,"v":133.3},{"s":"JP","x":2006.02,"v":134.5},{"s":"JP","x":2006.18,"v":137.9},{"s":"JP","x":2006.4,"v":140.2},{"s":"JP","x":2006.61,"v":142.4},{"s":"JP","x":2006.77,"v":143.6},{"s":"JP","x":2006.93,"v":147},{"s":"JP","x":2007.09,"v":146},{"s":"JP","x":2007.25,"v":148.2},{"s":"JP","x":2007.42,"v":151.6},{"s":"JP","x":2007.55,"v":157.3},{"s":"JP","x":2007.63,"v":167.1},{"s":"JP","x":2007.71,"v":160.7},{"s":"JP","x":2007.79,"v":163},{"s":"JP","x":2007.95,"v":158.9},{"s":"JP","x":2008.06,"v":168},{"s":"JP","x":2008.14,"v":161.9},{"s":"JP","x":2008.22,"v":165.7},{"s":"JP","x":2008.3,"v":160.3},{"s":"JP","x":2008.4,"v":163},{"s":"JP","x":2008.54,"v":160.7},{"s":"JP","x":2008.7,"v":158.4},{"s":"JP","x":2008.81,"v":155},{"s":"JP","x":2008.89,"v":135.6},{"s":"JP","x":2009.02,"v":109.3},{"s":"JP","x":2009.13,"v":97.9},{"s":"JP","x":2009.21,"v":101.4},{"s":"JP","x":2009.32,"v":109.3},{"s":"JP","x":2009.45,"v":116.2},{"s":"JP","x":2009.61,"v":121.9},{"s":"JP","x":2009.77,"v":127.6},{"s":"JP","x":2009.93,"v":133.3},{"s":"JP","x":2010.04,"v":140.2},{"s":"JP","x":2010.14,"v":142.4},{"s":"JP","x":2010.25,"v":145.9},{"s":"JP","x":2010.33,"v":153.9},{"s":"JP","x":2010.47,"v":153.9},{"s":"JP","x":2010.55,"v":157.3},{"s":"JP","x":2010.63,"v":151.1},{"s":"JP","x":2010.73,"v":150.4},

      {"s":"AS","x":2000.0,"v":95},{"s":"AS","x":2000.25,"v":100},{"s":"AS","x":2000.5,"v":103},{"s":"AS","x":2000.75,"v":104},{"s":"AS","x":2001.0,"v":103},{"s":"AS","x":2001.25,"v":99},{"s":"AS","x":2001.5,"v":97},{"s":"AS","x":2001.75,"v":96},{"s":"AS","x":2002.0,"v":101.4},{"s":"AS","x":2002.11,"v":104.5},{"s":"AS","x":2002.28,"v":107},{"s":"AS","x":2002.44,"v":110.5},{"s":"AS","x":2002.65,"v":113.2},{"s":"AS","x":2002.81,"v":115},{"s":"AS","x":2002.94,"v":111.6},{"s":"AS","x":2003.05,"v":121.9},{"s":"AS","x":2003.19,"v":121.9},{"s":"AS","x":2003.4,"v":125.3},{"s":"AS","x":2003.61,"v":128.8},{"s":"AS","x":2003.83,"v":133.3},{"s":"AS","x":2003.96,"v":142.4},{"s":"AS","x":2004.15,"v":144.7},{"s":"AS","x":2004.31,"v":148.2},{"s":"AS","x":2004.52,"v":151.6},{"s":"AS","x":2004.63,"v":150.4},{"s":"AS","x":2004.79,"v":157.3},{"s":"AS","x":2004.95,"v":164.1},{"s":"AS","x":2005.11,"v":167.6},{"s":"AS","x":2005.27,"v":172.1},{"s":"AS","x":2005.43,"v":175.6},{"s":"AS","x":2005.54,"v":174.9},{"s":"AS","x":2005.65,"v":179},{"s":"AS","x":2005.73,"v":180},{"s":"AS","x":2005.81,"v":184},{"s":"AS","x":2005.89,"v":181.7},{"s":"AS","x":2005.97,"v":192.7},{"s":"AS","x":2006.05,"v":193},{"s":"AS","x":2006.13,"v":196.1},{"s":"AS","x":2006.21,"v":205.2},{"s":"AS","x":2006.29,"v":199.5},{"s":"AS","x":2006.4,"v":200.7},{"s":"AS","x":2006.48,"v":203},{"s":"AS","x":2006.56,"v":198.4},{"s":"AS","x":2006.64,"v":208.7},{"s":"AS","x":2006.72,"v":210.5},{"s":"AS","x":2006.8,"v":206.8},{"s":"AS","x":2006.88,"v":217.8},{"s":"AS","x":2006.99,"v":219.6},{"s":"AS","x":2007.07,"v":222.4},{"s":"AS","x":2007.14,"v":228.1},{"s":"AS","x":2007.21,"v":218.9},{"s":"AS","x":2007.31,"v":225.8},{"s":"AS","x":2007.39,"v":225.8},{"s":"AS","x":2007.47,"v":228.8},{"s":"AS","x":2007.55,"v":228},{"s":"AS","x":2007.64,"v":231},{"s":"AS","x":2007.72,"v":228.1},{"s":"AS","x":2007.82,"v":238.4},{"s":"AS","x":2007.89,"v":244.7},{"s":"AS","x":2007.98,"v":246.3},{"s":"AS","x":2008.06,"v":249.8},{"s":"AS","x":2008.14,"v":249.8},{"s":"AS","x":2008.22,"v":248.6},{"s":"AS","x":2008.3,"v":257.1},{"s":"AS","x":2008.38,"v":257.8},{"s":"AS","x":2008.46,"v":245.6},{"s":"AS","x":2008.54,"v":254.8},{"s":"AS","x":2008.62,"v":250.9},{"s":"AS","x":2008.71,"v":244.7},{"s":"AS","x":2008.8,"v":245.6},{"s":"AS","x":2008.87,"v":218.9},{"s":"AS","x":2008.96,"v":212.1},{"s":"AS","x":2009.04,"v":204.6},{"s":"AS","x":2009.13,"v":215.5},{"s":"AS","x":2009.21,"v":216},{"s":"AS","x":2009.29,"v":217.3},{"s":"AS","x":2009.38,"v":212.1},{"s":"AS","x":2009.48,"v":216.7},{"s":"AS","x":2009.56,"v":218.9},{"s":"AS","x":2009.64,"v":218.9},{"s":"AS","x":2009.72,"v":226.9},{"s":"AS","x":2009.8,"v":237.2},{"s":"AS","x":2009.88,"v":241.8},{"s":"AS","x":2009.96,"v":260},{"s":"AS","x":2010.04,"v":261.2},{"s":"AS","x":2010.12,"v":266.2},{"s":"AS","x":2010.2,"v":269.2},{"s":"AS","x":2010.3,"v":268},{"s":"AS","x":2010.38,"v":279.5},{"s":"AS","x":2010.47,"v":279.5},{"s":"AS","x":2010.55,"v":272.6},{"s":"AS","x":2010.63,"v":278.3},{"s":"AS","x":2010.73,"v":273.7},

      {"s":"LA","x":2000.0,"v":94},{"s":"LA","x":2000.25,"v":99},{"s":"LA","x":2000.5,"v":102},{"s":"LA","x":2000.75,"v":105},{"s":"LA","x":2000.94,"v":105.9},{"s":"LA","x":2001.2,"v":102.5},{"s":"LA","x":2001.47,"v":101.4},{"s":"LA","x":2001.74,"v":99.1},{"s":"LA","x":2002.0,"v":102.5},{"s":"LA","x":2002.28,"v":104.8},{"s":"LA","x":2002.54,"v":107},{"s":"LA","x":2002.81,"v":107},{"s":"LA","x":2002.97,"v":103.6},{"s":"LA","x":2003.19,"v":104.8},{"s":"LA","x":2003.4,"v":105.9},{"s":"LA","x":2003.61,"v":108.2},{"s":"LA","x":2003.88,"v":110.5},{"s":"LA","x":2004.15,"v":112.8},{"s":"LA","x":2004.36,"v":115},{"s":"LA","x":2004.58,"v":116.2},{"s":"LA","x":2004.79,"v":118.5},{"s":"LA","x":2005.0,"v":118.5},{"s":"LA","x":2005.22,"v":121.9},{"s":"LA","x":2005.33,"v":121.9},{"s":"LA","x":2005.43,"v":127.6},{"s":"LA","x":2005.54,"v":126},{"s":"LA","x":2005.75,"v":126.5},{"s":"LA","x":2005.97,"v":132.2},{"s":"LA","x":2006.18,"v":131},{"s":"LA","x":2006.4,"v":133.3},{"s":"LA","x":2006.5,"v":128.8},{"s":"LA","x":2006.67,"v":134.5},{"s":"LA","x":2006.88,"v":135.6},{"s":"LA","x":2007.04,"v":136.7},{"s":"LA","x":2007.2,"v":141.3},{"s":"LA","x":2007.36,"v":142.9},{"s":"LA","x":2007.52,"v":140.2},{"s":"LA","x":2007.63,"v":139},{"s":"LA","x":2007.79,"v":144.7},{"s":"LA","x":2007.95,"v":143.6},{"s":"LA","x":2008.06,"v":145.9},{"s":"LA","x":2008.16,"v":139},{"s":"LA","x":2008.27,"v":134.5},{"s":"LA","x":2008.38,"v":143.6},{"s":"LA","x":2008.48,"v":139},{"s":"LA","x":2008.62,"v":137.9},{"s":"LA","x":2008.7,"v":144.7},{"s":"LA","x":2008.81,"v":136.7},{"s":"LA","x":2008.91,"v":128.8},{"s":"LA","x":2009.02,"v":127.6},{"s":"LA","x":2009.13,"v":128.8},{"s":"LA","x":2009.24,"v":126.5},{"s":"LA","x":2009.32,"v":133.3},{"s":"LA","x":2009.4,"v":124.2},{"s":"LA","x":2009.56,"v":128.8},{"s":"LA","x":2009.72,"v":127.6},{"s":"LA","x":2009.88,"v":133.3},{"s":"LA","x":2010.04,"v":142.4},{"s":"LA","x":2010.2,"v":144.7},{"s":"LA","x":2010.33,"v":153.9},{"s":"LA","x":2010.47,"v":147},{"s":"LA","x":2010.6,"v":153.9},{"s":"LA","x":2010.73,"v":160.7},

      {"s":"AF","x":2000.0,"v":94},{"s":"AF","x":2000.25,"v":99},{"s":"AF","x":2000.5,"v":103},{"s":"AF","x":2000.75,"v":104},{"s":"AF","x":2000.94,"v":105.9},{"s":"AF","x":2001.1,"v":101.4},{"s":"AF","x":2001.26,"v":99.1},{"s":"AF","x":2001.47,"v":98},{"s":"AF","x":2001.69,"v":96.8},{"s":"AF","x":2001.9,"v":95.7},{"s":"AF","x":2002.11,"v":94.5},{"s":"AF","x":2002.33,"v":96.8},{"s":"AF","x":2002.54,"v":98},{"s":"AF","x":2002.81,"v":100.2},{"s":"AF","x":2002.97,"v":95.7},{"s":"AF","x":2003.13,"v":103.6},{"s":"AF","x":2003.35,"v":100.2},{"s":"AF","x":2003.61,"v":101.4},{"s":"AF","x":2003.88,"v":104.8},{"s":"AF","x":2004.04,"v":104},{"s":"AF","x":2004.15,"v":107},{"s":"AF","x":2004.42,"v":110.5},{"s":"AF","x":2004.58,"v":111.6},{"s":"AF","x":2004.68,"v":113.9},{"s":"AF","x":2004.95,"v":115},{"s":"AF","x":2005.22,"v":117.3},{"s":"AF","x":2005.43,"v":119.6},{"s":"AF","x":2005.54,"v":119.6},{"s":"AF","x":2005.75,"v":116.9},{"s":"AF","x":2005.97,"v":120.8},{"s":"AF","x":2006.18,"v":120.8},{"s":"AF","x":2006.4,"v":120.8},{"s":"AF","x":2006.61,"v":121.9},{"s":"AF","x":2006.83,"v":123.7},{"s":"AF","x":2007.04,"v":126},{"s":"AF","x":2007.25,"v":126},{"s":"AF","x":2007.47,"v":127.6},{"s":"AF","x":2007.68,"v":127.6},{"s":"AF","x":2007.79,"v":132.2},{"s":"AF","x":2007.95,"v":135.6},{"s":"AF","x":2008.06,"v":137.9},{"s":"AF","x":2008.22,"v":134.5},{"s":"AF","x":2008.32,"v":136.1},{"s":"AF","x":2008.43,"v":133.8},{"s":"AF","x":2008.59,"v":132.9},{"s":"AF","x":2008.75,"v":128.3},{"s":"AF","x":2008.86,"v":121.9},{"s":"AF","x":2008.97,"v":116.2},{"s":"AF","x":2009.07,"v":111.6},{"s":"AF","x":2009.18,"v":113.9},{"s":"AF","x":2009.29,"v":115.5},{"s":"AF","x":2009.4,"v":118.5},{"s":"AF","x":2009.56,"v":123},{"s":"AF","x":2009.72,"v":125.3},{"s":"AF","x":2009.88,"v":129.9},{"s":"AF","x":2010.04,"v":132.2},{"s":"AF","x":2010.2,"v":135.6},{"s":"AF","x":2010.36,"v":139},{"s":"AF","x":2010.47,"v":139},{"s":"AF","x":2010.6,"v":136.7},{"s":"AF","x":2010.73,"v":136.1}
    ]
  },
  "vconcat": [
    {
      "vconcat": [
        {
          "data": {"name": "imp"},
          "title": {"text": "Import"},
          "width": 685,
          "height": 365,
          "mark": {"type": "line", "strokeWidth": 2.9, "strokeJoin": "round"},
          "encoding": {
            "x": {"field": "x", "type": "quantitative", "scale": {"domain": [2000, 2011], "nice": false, "zero": false}, "axis": {"values": [2000,2001,2002,2003,2004,2005,2006,2007,2008,2009,2010,2011], "format": "d", "labelExpr": "datum.value == 2011 ? '' : datum.label", "labelOffset": 26, "title": null}},
            "y": {"field": "v", "type": "quantitative", "scale": {"domain": [50, 300], "nice": false, "zero": false}, "axis": {"values": [50,100,150,200,250,300], "title": "Index (2000=100)"}},
            "color": {"field": "s", "type": "nominal", "scale": {"domain": ["US","EZ","ZOE","JP","AS","LA","AF"], "range": ["#000000","#243f72","#1b5e91","#5b80b1","#8fa6c9","#cbd5e7","#b3b3b3"]}, "legend": null}
          }
        },
        {
          "data": {"name": "exp"},
          "title": {"text": "Export"},
          "width": 685,
          "height": 365,
          "mark": {"type": "line", "strokeWidth": 2.9, "strokeJoin": "round"},
          "encoding": {
            "x": {"field": "x", "type": "quantitative", "scale": {"domain": [2000, 2011], "nice": false, "zero": false}, "axis": {"values": [2000,2001,2002,2003,2004,2005,2006,2007,2008,2009,2010,2011], "format": "d", "labelExpr": "datum.value == 2011 ? '' : datum.label", "labelOffset": 26, "title": null}},
            "y": {"field": "v", "type": "quantitative", "scale": {"domain": [50, 300], "nice": false, "zero": false}, "axis": {"values": [50,100,150,200,250,300], "title": "Index (2000=100)"}},
            "color": {"field": "s", "type": "nominal", "scale": {"domain": ["US","EZ","ZOE","JP","AS","LA","AF"], "range": ["#000000","#243f72","#1b5e91","#5b80b1","#8fa6c9","#c3cde0","#c0c0c0"]},
              "legend": {"orient": "bottom", "direction": "horizontal", "columns": 2, "title": null, "symbolType": "stroke", "symbolSize": 1850, "symbolStrokeWidth": 2.6, "labelFontSize": 21, "labelColor": "#000", "labelOffset": 9, "rowPadding": 0, "columnPadding": 28, "offset": 18, "labelLimit": 400,
                "labelExpr": "{'US':'Vereinigte Staaten','EZ':'Euro-Zone','ZOE':'Zentral- und Osteuropa','JP':'Japan','AS':'Asien','LA':'Lateinamerika','AF':'Afrika und Naher Osten'}[datum.label]"}}
          }
        }
      ],
      "spacing": 47,
      "resolve": {"legend": {"color": "independent"}, "scale": {"color": "independent"}}
    },
    {
      "data": {"values": []},
      "width": 685,
      "height": 1,
      "title": {"text": "Quellen: CPB; HWWI.", "orient": "bottom", "anchor": "start", "dx": -103, "fontWeight": "normal", "fontSize": 21, "offset": 2},
      "mark": {"type": "point", "opacity": 0},
      "encoding": {}
    }
  ],
  "spacing": 31,
  "config": {
    "font": "Lato",
    "view": {"stroke": "#555555", "strokeWidth": 1},
    "title": {"fontSize": 23, "fontWeight": "bold", "color": "#111", "offset": 13},
    "axis": {"labelFontSize": 21, "labelColor": "#000", "labelOverlap": false, "labelFlush": false, "titleFontSize": 22, "titleFontWeight": "normal", "titleColor": "#000", "domainColor": "#000", "domainWidth": 1.3, "tickColor": "#000", "tickWidth": 1.3, "gridColor": "#b8b8b8", "gridDash": [3, 3], "gridWidth": 1},
    "axisX": {"tickSize": 7, "labelPadding": 21},
    "axisY": {"tickSize": 6, "labelPadding": 16, "titlePadding": 25},
    "legend": {"labelFont": "Lato"}
  }
}
